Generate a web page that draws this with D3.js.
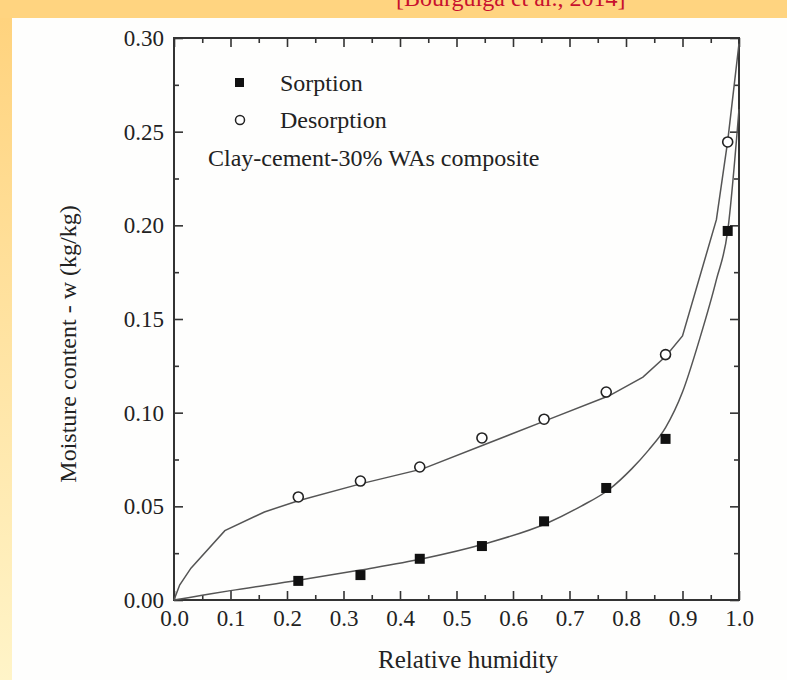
<!DOCTYPE html>
<html>
<head>
<meta charset="utf-8">
<script src="https://cdn.jsdelivr.net/npm/d3@7"></script>
<style>
  body { margin: 0; padding: 0; background: #fff; }
  svg { display: block; }
  svg text { font-family: "Liberation Serif", "Times New Roman", serif; }
</style>
</head>
<body>
<svg id="chart" width="787" height="680"></svg>
<script>
// meetpunten sorptie (gevulde vierkantjes)
var sorpRH = [0.22, 0.33, 0.435, 0.545, 0.655, 0.765, 0.87, 0.98];
var sorpW  = [0.0102, 0.0133, 0.0220, 0.0288, 0.0420, 0.0598, 0.0860, 0.1970];

// meetpunten desorptie (open rondjes)
var desRH = [0.22, 0.33, 0.435, 0.545, 0.655, 0.765, 0.87, 0.98];
var desW  = [0.0550, 0.0635, 0.0710, 0.0865, 0.0965, 0.1110, 0.1310, 0.2445];

// modelcurve sorptie
var sorpFitRH = [0, 0.05, 0.1, 0.22, 0.33, 0.44, 0.55, 0.66, 0.72, 0.77, 0.81, 0.84, 0.87, 0.90, 0.93, 0.96, 0.98, 1.0];
var sorpFitW  = [0, 0.0025, 0.005, 0.0105, 0.016, 0.022, 0.030, 0.041, 0.050, 0.059, 0.070, 0.080, 0.092, 0.111, 0.139, 0.171, 0.197, 0.262];

// modelcurve desorptie
var desFitRH = [0, 0.01, 0.03, 0.09, 0.16, 0.22, 0.33, 0.44, 0.55, 0.66, 0.77, 0.83, 0.87, 0.90, 0.96, 0.98, 1.0];
var desFitW  = [0, 0.008, 0.017, 0.037, 0.047, 0.053, 0.062, 0.070, 0.083, 0.096, 0.109, 0.119, 0.130, 0.141, 0.203, 0.245, 0.297];

var xTicks = [0, 0.1, 0.2, 0.3, 0.4, 0.5, 0.6, 0.7, 0.8, 0.9, 1.0];
var yTicks = [0, 0.05, 0.10, 0.15, 0.20, 0.25, 0.30];
var legendLabels = ["Sorption", "Desorption"];
var sampleLabel = "Clay-cement-30% WAs composite";

var svg = d3.select("#chart"),
    margin = {top: 38, right: 48, bottom: 80, left: 174},
    width = +svg.attr("width") - margin.left - margin.right,
    height = +svg.attr("height") - margin.top - margin.bottom;

// achtergrond met de gele rand van de dia
var defs = svg.append("defs");
var grad = defs.append("linearGradient").attr("id", "side").attr("x1", 0).attr("y1", 0).attr("x2", 0).attr("y2", 1);
grad.append("stop").attr("offset", "0%").attr("stop-color", "#ffd27c");
grad.append("stop").attr("offset", "100%").attr("stop-color", "#fff4c8");

svg.append("rect").attr("width", 787).attr("height", 680).attr("fill", "url(#side)");
svg.append("rect").attr("width", 787).attr("height", 18).attr("fill", "#ffd480");
svg.append("rect").attr("x", 12).attr("y", 18).attr("width", 775).attr("height", 662).attr("fill", "#fefefd");

// afgesneden bronvermelding bovenaan
svg.append("text")
    .attr("x", 396).attr("y", 6)
    .attr("font-size", 24)
    .attr("fill", "#c8102e")
    .text("[Bourguiga et al., 2014]");

var g = svg.append("g").attr("transform", "translate(" + margin.left + "," + margin.top + ")");

var x = d3.scaleLinear().domain([0, 1]).range([0, width]);
var y = d3.scaleLinear().domain([0, 0.30]).range([height, 0]);

function minor(ticks) {
  var out = [];
  for (var i = 0; i < ticks.length - 1; i++) out.push((ticks[i] + ticks[i + 1]) / 2);
  return out;
}

// assen: hoofdstreepjes naar binnen, ook boven en rechts
var axes = [
  {ax: d3.axisBottom(x).tickValues(xTicks).tickFormat(d3.format(".1f")), tr: "translate(0," + height + ")", lab: true},
  {ax: d3.axisBottom(x).tickValues(minor(xTicks)).tickFormat(""), tr: "translate(0," + height + ")", size: -5},
  {ax: d3.axisTop(x).tickValues(xTicks).tickFormat(""), tr: null},
  {ax: d3.axisTop(x).tickValues(minor(xTicks)).tickFormat(""), tr: null, size: -5},
  {ax: d3.axisLeft(y).tickValues(yTicks).tickFormat(d3.format(".2f")), tr: null, lab: true},
  {ax: d3.axisLeft(y).tickValues(minor(yTicks)).tickFormat(""), tr: null, size: -5},
  {ax: d3.axisRight(y).tickValues(yTicks).tickFormat(""), tr: "translate(" + width + ",0)"},
  {ax: d3.axisRight(y).tickValues(minor(yTicks)).tickFormat(""), tr: "translate(" + width + ",0)", size: -5}
];

axes.forEach(function(a) {
  a.ax.tickSizeInner(a.size || -9).tickSizeOuter(0).tickPadding(a.lab ? 10 : 3);
  var ag = g.append("g").attr("class", "axis").attr("font-family", null);
  if (a.tr) ag.attr("transform", a.tr);
  ag.call(a.ax);
  ag.attr("font-family", null);
  ag.select(".domain").remove();
  ag.selectAll("line").attr("stroke", "#333").attr("stroke-width", 1.6);
  ag.selectAll("text")
    .attr("font-size", 23)
    .attr("fill", "#222");
});

// kader
g.append("rect")
    .attr("width", width).attr("height", height)
    .attr("fill", "none").attr("stroke", "#333").attr("stroke-width", 2);

// modelcurves
var sorpFit = sorpFitRH.map(function(d, i) { return [d, sorpFitW[i]]; });
var desFit = desFitRH.map(function(d, i) { return [d, desFitW[i]]; });

g.append("path")
    .datum(sorpFit)
    .attr("fill", "none").attr("stroke", "#555").attr("stroke-width", 1.5)
    .attr("d", d3.line().x(function(d) { return x(d[0]); }).y(function(d) { return y(d[1]); }).curve(d3.curveMonotoneX));

g.append("path")
    .datum(desFit)
    .attr("fill", "none").attr("stroke", "#555").attr("stroke-width", 1.5)
    .attr("d", d3.line().x(function(d) { return x(d[0]); }).y(function(d) { return y(d[1]); }));

// meetpunten
g.selectAll(".sorp")
    .data(sorpRH)
    .enter().append("rect")
      .attr("class", "sorp")
      .attr("x", function(d) { return x(d) - 5; })
      .attr("y", function(d, i) { return y(sorpW[i]) - 5; })
      .attr("width", 10).attr("height", 10)
      .attr("fill", "#111");

g.selectAll(".des")
    .data(desRH)
    .enter().append("circle")
      .attr("class", "des")
      .attr("cx", function(d) { return x(d); })
      .attr("cy", function(d, i) { return y(desW[i]); })
      .attr("r", 5)
      .attr("fill", "#fff").attr("stroke", "#222").attr("stroke-width", 1.6);

// legenda
var legend = g.append("g").attr("font-size", 24).attr("fill", "#222");
legend.append("rect").attr("x", 61).attr("y", 40).attr("width", 9).attr("height", 9).attr("fill", "#111");
legend.append("circle").attr("cx", 66).attr("cy", 82).attr("r", 4.5).attr("fill", "#fff").attr("stroke", "#222").attr("stroke-width", 1.5);
legend.selectAll(".lt")
    .data(legendLabels)
    .enter().append("text")
      .attr("class", "lt")
      .attr("x", 106)
      .attr("y", function(d, i) { return 45 + i * 37; })
      .attr("dy", "0.35em")
      .text(function(d) { return d; });
legend.append("text")
    .attr("x", 34).attr("y", 120).attr("dy", "0.35em")
    .text(sampleLabel);

// as-titels
svg.append("text")
    .attr("x", 468).attr("y", 668)
    .attr("text-anchor", "middle")
    .attr("font-size", 25).attr("fill", "#222")
    .text("Relative humidity");

svg.append("text")
    .attr("transform", "translate(76,344) rotate(-90)")
    .attr("text-anchor", "middle")
    .attr("font-size", 24).attr("fill", "#222")
    .text("Moisture content - w (kg/kg)");
</script>
</body>
</html>
